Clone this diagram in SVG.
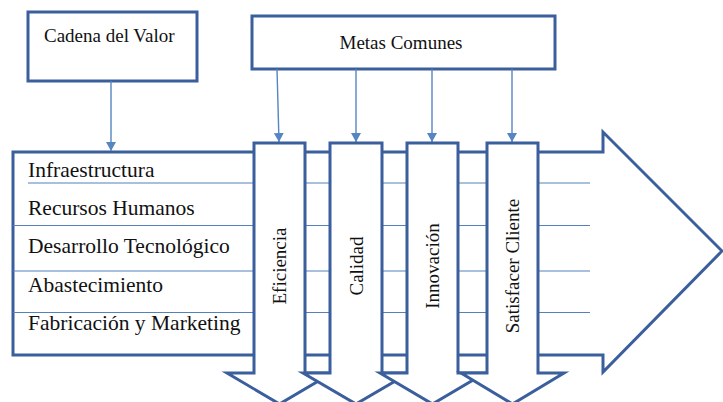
<svg xmlns="http://www.w3.org/2000/svg" width="723" height="402" viewBox="0 0 723 402">
  <style>
    .box { fill: #ffffff; stroke: #3a5f9c; stroke-width: 3; stroke-linejoin: miter; }
    .row { stroke: #5580bd; stroke-width: 1.2; fill: none; }
    .link { stroke: #5585c2; stroke-width: 1.4; fill: none; }
    .lbl { font-family: "Liberation Serif", "Times New Roman", serif; fill: #111111; }
    .title { font-size: 19px; }
    .item { font-size: 21.5px; }
    .goal { font-size: 19px; text-anchor: middle; }
  </style>
  <defs>
    <marker id="tip" markerUnits="userSpaceOnUse" markerWidth="10" markerHeight="10" refX="9" refY="5" orient="auto">
      <path d="M0,0 L9,5 L0,10 z" fill="#5585c2"/>
    </marker>
  </defs>

  <!-- value chain: large horizontal arrow with activity rows -->
  <g id="cadena-body">
    <polygon class="box" points="13,152 603,152 603,132 722,251 603,372 603,355 13,355"/>
    <line class="row" x1="28" y1="183" x2="590" y2="183"/>
    <line class="row" x1="13" y1="225.5" x2="590" y2="225.5"/>
    <line class="row" x1="13" y1="271" x2="590" y2="271"/>
    <line class="row" x1="13" y1="312.5" x2="590" y2="312.5"/>
    <text class="lbl item" x="28" y="177">Infraestructura</text>
    <text class="lbl item" x="28" y="215">Recursos Humanos</text>
    <text class="lbl item" x="28" y="253">Desarrollo Tecnológico</text>
    <text class="lbl item" x="28" y="292">Abastecimiento</text>
    <text class="lbl item" x="28" y="330">Fabricación y Marketing</text>
  </g>

  <!-- header boxes -->
  <g id="cadena-valor">
    <rect class="box" x="28" y="12" width="169" height="69"/>
    <text class="lbl title" x="44" y="42">Cadena del Valor</text>
  </g>
  <g id="metas-comunes">
    <rect class="box" x="252" y="16" width="303" height="53"/>
    <text class="lbl title" x="401" y="49" text-anchor="middle">Metas Comunes</text>
  </g>

  <!-- connectors -->
  <g id="connectors">
    <path class="link" d="M111,81 L111,151" marker-end="url(#tip)"/>
    <path class="link" d="M277,69 L279,142" marker-end="url(#tip)"/>
    <path class="link" d="M356,69 L356,142" marker-end="url(#tip)"/>
    <path class="link" d="M432,69 L432,142" marker-end="url(#tip)"/>
    <path class="link" d="M512,69 L512,142" marker-end="url(#tip)"/>
  </g>

  <!-- downward goal arrows -->
  <g id="eficiencia">
    <polygon class="box" points="254,143 305,143 305,373 332,373 279.5,404 227,373 254,373"/>
    <text class="lbl goal" transform="translate(286,266) rotate(-90)">Eficiencia</text>
  </g>
  <g id="calidad">
    <polygon class="box" points="330,143 382,143 382,373 409,373 356,404 303,373 330,373"/>
    <text class="lbl goal" transform="translate(362.5,266) rotate(-90)">Calidad</text>
  </g>
  <g id="innovacion">
    <polygon class="box" points="407,143 458,143 458,373 485,373 432.5,404 380,373 407,373"/>
    <text class="lbl goal" transform="translate(439,266) rotate(-90)">Innovación</text>
  </g>
  <g id="satisfacer-cliente">
    <polygon class="box" points="487,143 538,143 538,373 564,373 512.5,404 461,373 487,373"/>
    <text class="lbl goal" transform="translate(519,266) rotate(-90)">Satisfacer Cliente</text>
  </g>
</svg>
